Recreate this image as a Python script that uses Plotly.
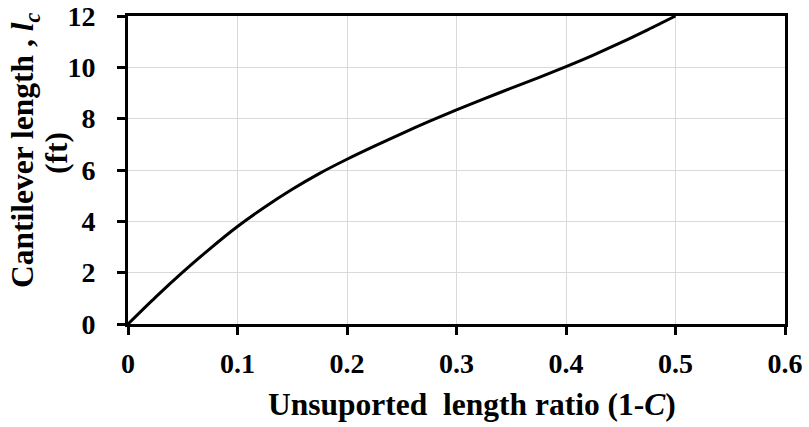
import plotly.graph_objects as go

ratio = [0, 0.025, 0.05, 0.075, 0.1, 0.125, 0.15, 0.175, 0.2, 0.225, 0.25,
         0.275, 0.3, 0.325, 0.35, 0.375, 0.4, 0.425, 0.45, 0.475, 0.5]
length_ft = [0, 1.04, 2.02, 2.94, 3.80, 4.56, 5.25, 5.87, 6.42, 6.93, 7.42,
             7.89, 8.34, 8.77, 9.19, 9.60, 10.03, 10.48, 10.96, 11.47, 12.0]

x_ticks = [0, 0.1, 0.2, 0.3, 0.4, 0.5, 0.6]
x_tick_labels = ["0", "0.1", "0.2", "0.3", "0.4", "0.5", "0.6"]
y_ticks = [0, 2, 4, 6, 8, 10, 12]

x_title = "<b>Unsuported\u00a0 length ratio (1-<i>C</i>)</b>"
y_title_line1 = "<b>Cantilever length , <i>l<sub>c</sub></i></b>"
y_title_line2 = "<b>(ft)</b>"

font_family = "Liberation Serif"
tick_size = 28
title_size = 31.5

fig = go.Figure()
fig.add_trace(go.Scatter(
    x=ratio, y=length_ft, mode="lines",
    line=dict(color="black", width=3, shape="spline", smoothing=0.8),
    showlegend=False, cliponaxis=False,
))

fig.update_layout(
    width=809, height=427,
    margin=dict(l=128, r=24, t=16, b=103, autoexpand=False),
    paper_bgcolor="white", plot_bgcolor="white",
    font=dict(family=font_family, color="black", size=tick_size),
)
fig.update_xaxes(
    range=[0, 0.6], tickvals=x_ticks, ticktext=x_tick_labels,
    showgrid=True, gridcolor="#d9d9d9", gridwidth=1,
    showline=True, linecolor="black", linewidth=3, mirror=True,
    ticks="outside", ticklen=8, tickwidth=3, tickcolor="black",
    tickfont=dict(family=font_family, size=tick_size, weight="bold"),
    ticklabeloverflow="allow", ticklabelstandoff=4,
    zeroline=False, automargin=False,
)
fig.update_yaxes(
    range=[0, 12], tickvals=y_ticks,
    showgrid=True, gridcolor="#d9d9d9", gridwidth=1,
    showline=True, linecolor="black", linewidth=3, mirror=True,
    ticks="outside", ticklen=8, tickwidth=3, tickcolor="black",
    tickfont=dict(family=font_family, size=tick_size, weight="bold"),
    ticklabeloverflow="allow", ticklabelstandoff=16,
    zeroline=False, automargin=False,
)

fig.add_annotation(
    text=x_title, xref="paper", yref="paper", x=0.5236, y=-0.26,
    xanchor="center", yanchor="middle", showarrow=False,
    font=dict(family=font_family, size=title_size, color="black"),
)
fig.add_annotation(
    text=y_title_line1, xref="paper", yref="paper",
    x=(25 - 128) / 657, y=(324 - 151) / 308,
    xanchor="center", yanchor="middle", showarrow=False, textangle=-90,
    font=dict(family=font_family, size=title_size, color="black"),
)
fig.add_annotation(
    text=y_title_line2, xref="paper", yref="paper",
    x=(56 - 128) / 657, y=(324 - 153) / 308,
    xanchor="center", yanchor="middle", showarrow=False, textangle=-90,
    font=dict(family=font_family, size=title_size, color="black"),
)

fig.write_html(
    "out.html",
    config={"displayModeBar": False},
    post_script="document.body.style.margin='0';document.body.style.overflow='hidden';",
)
